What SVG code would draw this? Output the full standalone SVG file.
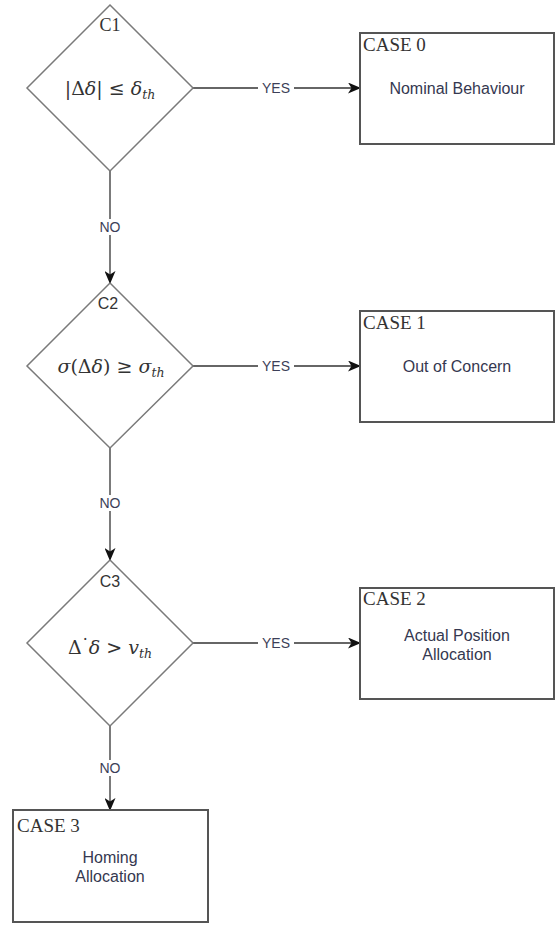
<svg xmlns="http://www.w3.org/2000/svg" width="555" height="925" viewBox="0 0 555 925">
<defs>
<marker id="arr" markerWidth="13" markerHeight="11" refX="12" refY="5.5" orient="auto" markerUnits="userSpaceOnUse">
<path d="M0,0 L13,5.5 L0,11 L3.5,5.5 Z" fill="#111"/>
</marker>
<style>
.dia{fill:#fff;stroke:#7a7a7a;stroke-width:1.5}
.box{fill:#fff;stroke:#555;stroke-width:2}
.con{fill:none;stroke:#333;stroke-width:1.3}
.lbl{font-family:"Liberation Sans",Arial,sans-serif;font-size:14px;fill:#3c3f58;text-anchor:middle}
.body{font-family:"Liberation Sans",Arial,sans-serif;font-size:16px;fill:#353850;text-anchor:middle}
.case{font-family:"Liberation Serif","Times New Roman",serif;font-size:19px;fill:#333}
.cid{font-family:"Liberation Serif","Times New Roman",serif;font-size:18px;fill:#333;text-anchor:middle}
.cids{font-family:"Liberation Sans",Arial,sans-serif;font-size:16px;fill:#333;text-anchor:middle}
.math{font-family:"DejaVu Serif","Liberation Serif",serif;font-size:19px;fill:#333;text-anchor:middle}
.it{font-style:italic}
.sub{font-size:12.5px;font-style:italic}
.dot{font-size:14px;font-weight:bold}
</style>
</defs>
<g id="connectors">
<line class="con" x1="193" y1="88" x2="360" y2="88" marker-end="url(#arr)"/>
<line class="con" x1="193" y1="366" x2="360" y2="366" marker-end="url(#arr)"/>
<line class="con" x1="193" y1="643" x2="360" y2="643" marker-end="url(#arr)"/>
<line class="con" x1="110" y1="171" x2="110" y2="283" marker-end="url(#arr)"/>
<line class="con" x1="110" y1="448" x2="110" y2="560" marker-end="url(#arr)"/>
<line class="con" x1="110" y1="726" x2="110" y2="810" marker-end="url(#arr)"/>
<rect x="258" y="80" width="36" height="16" fill="#fff"/>
<text class="lbl" x="276" y="93">YES</text>
<rect x="258" y="358" width="36" height="16" fill="#fff"/>
<text class="lbl" x="276" y="371">YES</text>
<rect x="258" y="635" width="36" height="16" fill="#fff"/>
<text class="lbl" x="276" y="648">YES</text>
<rect x="96" y="219" width="28" height="16" fill="#fff"/>
<text class="lbl" x="110" y="232">NO</text>
<rect x="96" y="495" width="28" height="16" fill="#fff"/>
<text class="lbl" x="110" y="508">NO</text>
<rect x="96" y="760" width="28" height="16" fill="#fff"/>
<text class="lbl" x="110" y="773">NO</text>
</g>
<g id="C1">
<polygon class="dia" points="110,5 193,88 110,171 27,88"/>
<text class="cid" x="110" y="31">C1</text>
<text class="math" x="110" y="95">|Δ<tspan class="it">δ</tspan>| ≤ <tspan class="it">δ</tspan><tspan class="sub" dy="4">th</tspan></text>
</g>
<g id="C2">
<polygon class="dia" points="110,283 193,366 110,448 27,366"/>
<text class="cids" x="108" y="309">C2</text>
<text class="math" x="111" y="373"><tspan class="it">σ</tspan>(Δ<tspan class="it">δ</tspan>) ≥ <tspan class="it">σ</tspan><tspan class="sub" dy="4">th</tspan></text>
</g>
<g id="C3">
<polygon class="dia" points="110,560 193,643 110,726 27,643"/>
<text class="cids" x="110" y="587">C3</text>
<text class="math" x="110" y="654">Δ<tspan class="dot" dy="-4">˙</tspan><tspan class="it" dy="4">δ</tspan> &gt; <tspan class="it">v</tspan><tspan class="sub" dy="4">th</tspan></text>
</g>
<g id="case0">
<rect class="box" x="360" y="33" width="194" height="111"/>
<text class="case" x="363" y="51">CASE 0</text>
<text class="body" x="457" y="94">Nominal Behaviour</text>
</g>
<g id="case1">
<rect class="box" x="360" y="311" width="194" height="111"/>
<text class="case" x="363" y="329">CASE 1</text>
<text class="body" x="457" y="372">Out of Concern</text>
</g>
<g id="case2">
<rect class="box" x="360" y="588" width="194" height="111"/>
<text class="case" x="363" y="605">CASE 2</text>
<text class="body" x="457" y="641">Actual Position</text>
<text class="body" x="457" y="660">Allocation</text>
</g>
<g id="case3">
<rect class="box" x="13" y="810" width="195" height="112"/>
<text class="case" x="17" y="832">CASE 3</text>
<text class="body" x="110" y="863">Homing</text>
<text class="body" x="110" y="882">Allocation</text>
</g>
</svg>
